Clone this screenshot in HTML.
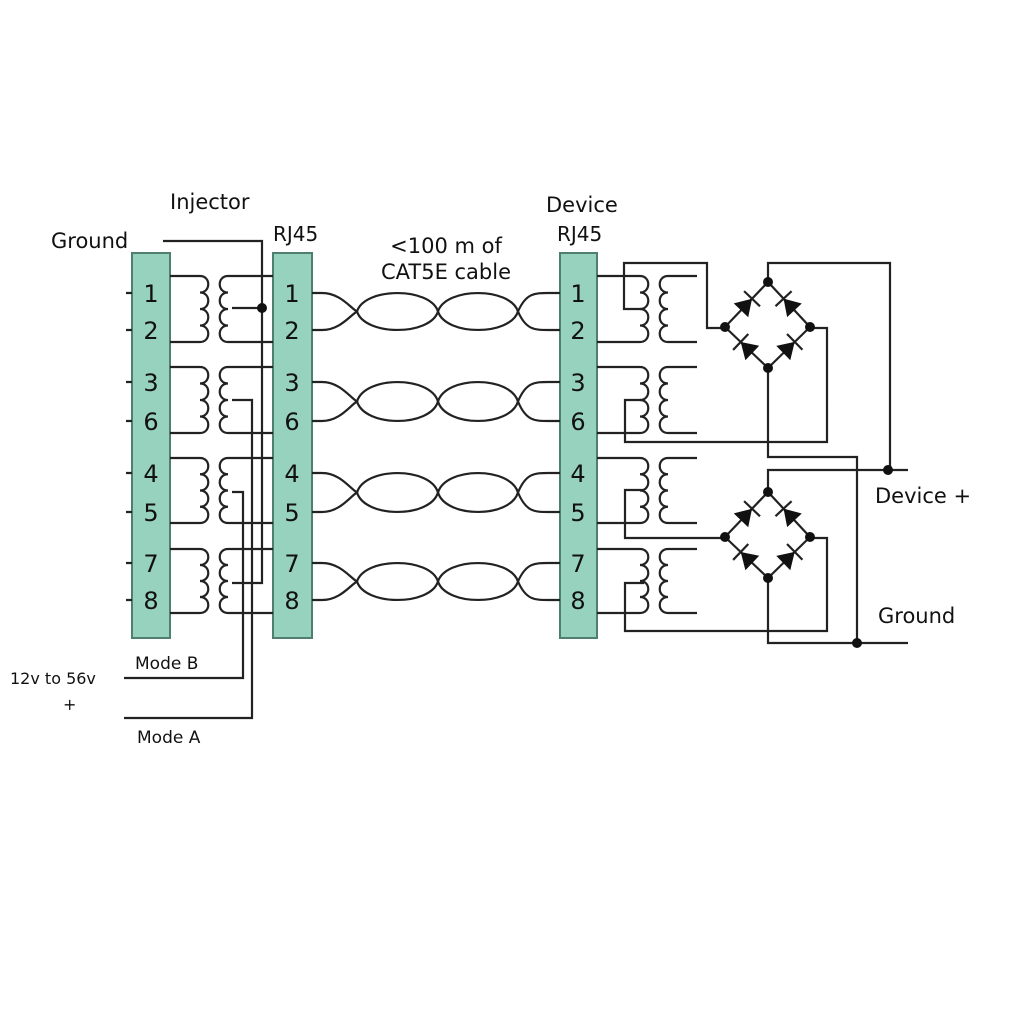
<!DOCTYPE html>
<html><head><meta charset="utf-8"><style>
html,body{margin:0;padding:0;background:#fff}
svg{display:block}
text{font-family:"DejaVu Sans","Liberation Sans",sans-serif;fill:#111}
.n{font-family:"DejaVu Sans",sans-serif;font-size:24px;fill:#2b4a42}
</style></head><body>
<svg id="s" width="1024" height="1024" viewBox="0 0 1024 1024" xmlns="http://www.w3.org/2000/svg">
<g id="blocks" fill="#97d2bf" stroke="#4f7f70" stroke-width="2">
<rect x="132" y="253" width="38" height="385"/>
<rect x="273" y="253" width="39" height="385"/>
<rect x="560" y="253" width="37" height="385"/>
</g>
<g id="w" fill="none" stroke="#222" stroke-width="2.2"></g>
<g id="dots" fill="#111"></g>
<g class="n" text-anchor="middle">
<text x="151" y="302">1</text><text x="151" y="339">2</text><text x="151" y="391">3</text><text x="151" y="430">6</text><text x="151" y="482">4</text><text x="151" y="521">5</text><text x="151" y="572">7</text><text x="151" y="609">8</text>
<text x="292" y="302">1</text><text x="292" y="339">2</text><text x="292" y="391">3</text><text x="292" y="430">6</text><text x="292" y="482">4</text><text x="292" y="521">5</text><text x="292" y="572">7</text><text x="292" y="609">8</text>
<text x="578" y="302">1</text><text x="578" y="339">2</text><text x="578" y="391">3</text><text x="578" y="430">6</text><text x="578" y="482">4</text><text x="578" y="521">5</text><text x="578" y="572">7</text><text x="578" y="609">8</text>
</g>
<text x="170" y="209" font-size="21">Injector</text>
<text x="51" y="248" font-size="21">Ground</text>
<text x="273" y="241" font-size="20" fill="#333">RJ45</text>
<text x="446" y="253" font-size="21" text-anchor="middle" fill="#333">&lt;100 m of</text>
<text x="446" y="279" font-size="21" text-anchor="middle" fill="#333">CAT5E cable</text>
<text x="546" y="212" font-size="21">Device</text>
<text x="557" y="241" font-size="20" fill="#333">RJ45</text>
<text x="875" y="503" font-size="21">Device +</text>
<text x="878" y="623" font-size="21">Ground</text>
<text x="10" y="684" font-size="16">12v to 56v</text>
<text x="63" y="710" font-size="16">+</text>
<text x="135" y="669" font-size="17">Mode B</text>
<text x="137" y="743" font-size="17">Mode A</text>
</svg>
<script>
var W=document.getElementById('w'),D=document.getElementById('dots'),NS='http://www.w3.org/2000/svg';
function p(d){var e=document.createElementNS(NS,'path');e.setAttribute('d',d);W.appendChild(e);}
function dot(x,y,r){var e=document.createElementNS(NS,'circle');e.setAttribute('cx',x);e.setAttribute('cy',y);e.setAttribute('r',r||5);D.appendChild(e);}
function coil(x,y1,y2,dir){var n=4,h=(y2-y1)/n,d='';for(var i=0;i<n;i++){var a=y1+i*h;d+=' C'+(x+dir*11)+','+a+' '+(x+dir*11)+','+(a+h)+' '+x+','+(a+h);}return d;}
var pins=[[293,330],[382,421],[473,512],[563,600]];
var tr=[[276,342],[367,433],[458,523],[549,613]];
for(var k=0;k<4;k++){
 var t=tr[k][0],b=tr[k][1],pa=pins[k][0],pb=pins[k][1];
 p('M170,'+t+' H200'+coil(200,t,b,1)+' H170');
 p('M273,'+t+' H228'+coil(228,t,b,-1)+' H273');
 p('M126,'+pa+' H132 M126,'+pb+' H132');
 var c=(pa+pb)/2,hh=(pb-pa)/2;
 var up=c-hh*1.33,dn=c+hh*1.33;
 p('M312,'+pa+' H322 C340,'+pa+' 350,'+(c-4)+' 357,'+c+' C365,'+dn+' 430,'+dn+' 438,'+c+' C446,'+up+' 510,'+up+' 518,'+c+' C526,'+pb+' 535,'+pb+' 548,'+pb+' H560');
 p('M312,'+pb+' H322 C340,'+pb+' 350,'+(c+4)+' 357,'+c+' C365,'+up+' 430,'+up+' 438,'+c+' C446,'+dn+' 510,'+dn+' 518,'+c+' C526,'+pa+' 535,'+pa+' 548,'+pa+' H560');
 p('M597,'+t+' H640'+coil(640,t,b,1)+' H597');
 p('M697,'+t+' H668'+coil(668,t,b,-1)+' H697');
}
p('M163,241 H262 V583 H232');
p('M232,308 H262'); dot(262,308,5);
p('M232,400 H252 V718 H124');
p('M232,492 H243 V678 H124');
p('M644,309 H624 V263 H707 V328 H725');
p('M644,400 H625 V442 H827 V328 H810');
p('M644,490 H625 V538 H725');
p('M644,583 H625 V631 H827 V538 H810');
function bridge(cx,cy){
 var L=[cx-43,cy],R=[cx+42,cy],T=[cx,cy-45],B=[cx,cy+41];
 p('M'+L+' L'+T+' L'+R+' L'+B+' Z');
 [[B,L],[L,T],[B,R],[R,T]].forEach(function(e){
  var a=e[0],b=e[1],dx=b[0]-a[0],dy=b[1]-a[1],len=Math.hypot(dx,dy),ux=dx/len,uy=dy/len,nx=-uy,ny=ux;
  var mx=(a[0]+b[0])/2,my=(a[1]+b[1])/2,s=10;
  var tip=[mx+ux*s*0.8,my+uy*s*0.8],b0=[mx-ux*s*0.8,my-uy*s*0.8];
  var pl=document.createElementNS(NS,'polygon');
  pl.setAttribute('points',[b0[0]+nx*s,b0[1]+ny*s,b0[0]-nx*s,b0[1]-ny*s,tip[0],tip[1]].join(' '));
  D.appendChild(pl);
  p('M'+(tip[0]+nx*s*1.1)+','+(tip[1]+ny*s*1.1)+' L'+(tip[0]-nx*s*1.1)+','+(tip[1]-ny*s*1.1));
 });
 dot(L[0],L[1]);dot(R[0],R[1]);dot(T[0],T[1]);dot(B[0],B[1]);
}
bridge(768,327); bridge(768,537);
p('M768,282 V263 H890 V470');
p('M768,368 V457 H857 V643');
p('M768,492 V470 H908');
p('M768,578 V643 H908');
dot(888,470,5); dot(857,643,5);
</script>
</body></html>
